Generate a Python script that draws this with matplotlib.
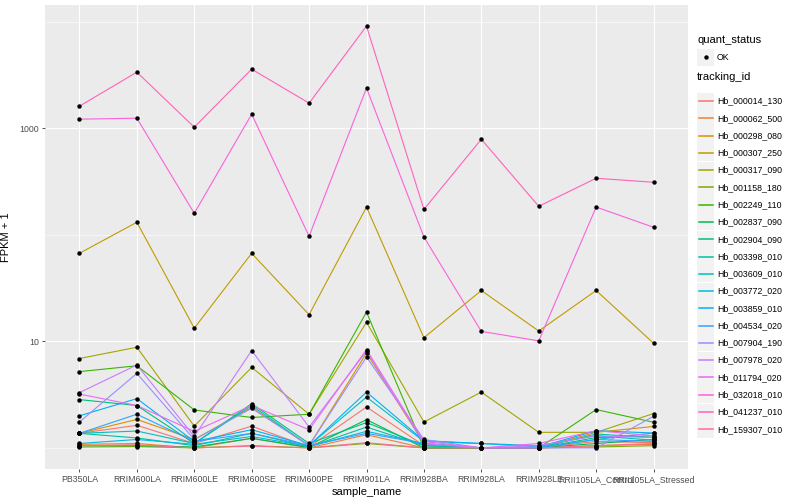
import numpy as np
import matplotlib
matplotlib.use("Agg")
import matplotlib.pyplot as plt
from matplotlib.patches import Rectangle
from matplotlib.lines import Line2D

plt.rcParams['font.family'] = ['Liberation Sans', 'DejaVu Sans']

samples = ["PB350LA", "RRIM600LA", "RRIM600LE", "RRIM600SE", "RRIM600PE", "RRIM901LA",
           "RRIM928BA", "RRIM928LA", "RRIM928LE", "RRII105LA_Control", "RRII105LA_Stressed"]

tracking_ids = ["Hb_000014_130", "Hb_000062_500", "Hb_000298_080", "Hb_000307_250",
                "Hb_000317_090", "Hb_001158_180", "Hb_002249_110", "Hb_002837_090",
                "Hb_002904_090", "Hb_003398_010", "Hb_003609_010", "Hb_003772_020",
                "Hb_003859_010", "Hb_004534_020", "Hb_007904_190", "Hb_007978_020",
                "Hb_011794_020", "Hb_032018_010", "Hb_041237_010", "Hb_159307_010"]

# ggplot hue palette, 20 levels
colors = ["#F8766D", "#EA8331", "#D89000", "#C09B00", "#A3A500", "#7CAE00", "#39B600",
          "#00BB4E", "#00BF7D", "#00C1A3", "#00BFC4", "#00BAE0", "#00B0F6", "#35A2FF",
          "#9590FF", "#C77CFF", "#E76BF3", "#FA62DB", "#FF62BC", "#FF6C91"]

# FPKM + 1 per sample (same order as samples)
hb_000014_130 = [1.37, 1.63, 1.10, 1.60, 1.02, 2.42, 1.05, 1.00, 1.00, 1.15, 1.12]
hb_000062_500 = [1.08, 1.10, 1.00, 1.23, 1.00, 1.33, 1.00, 1.00, 1.00, 1.05, 1.08]
hb_000298_080 = [1.37, 1.85, 1.20, 2.40, 1.05, 7.76, 1.10, 1.00, 1.00, 1.40, 1.59]
hb_000307_250 = [67, 131, 13.3, 67, 17.8, 182, 10.8, 30, 12.5, 30, 9.6]
hb_000317_090 = [6.9, 8.8, 1.60, 5.7, 2.07, 15.1, 1.75, 3.34, 1.40, 1.40, 2.10]
hb_001158_180 = [1.02, 1.03, 1.00, 1.05, 1.00, 1.10, 1.00, 1.00, 1.00, 1.02, 1.05]
hb_002249_110 = [5.2, 5.9, 2.27, 1.93, 2.07, 18.8, 1.00, 1.00, 1.00, 2.29, 1.74]
hb_002837_090 = [1.05, 1.05, 1.02, 1.23, 1.01, 1.84, 1.00, 1.00, 1.00, 1.10, 1.20]
hb_002904_090 = [2.84, 2.50, 1.10, 2.60, 1.10, 1.73, 1.05, 1.00, 1.00, 1.25, 1.30]
hb_003398_010 = [1.37, 1.24, 1.05, 1.37, 1.02, 1.57, 1.05, 1.00, 1.00, 1.35, 1.25]
hb_003609_010 = [1.37, 1.44, 1.10, 2.50, 1.05, 3.00, 1.15, 1.10, 1.05, 1.30, 1.18]
hb_003772_020 = [1.10, 1.20, 1.08, 1.28, 1.03, 1.43, 1.10, 1.00, 1.00, 1.20, 1.38]
hb_003859_010 = [2.00, 2.90, 1.15, 1.48, 1.05, 3.34, 1.17, 1.10, 1.02, 1.45, 1.38]
hb_004534_020 = [1.37, 2.07, 1.15, 1.37, 1.05, 1.37, 1.10, 1.00, 1.00, 1.20, 1.15]
hb_007904_190 = [1.75, 5.00, 1.20, 2.35, 1.05, 7.12, 1.20, 1.00, 1.00, 1.00, 1.98]
hb_007978_020 = [3.30, 6.00, 1.28, 8.20, 1.57, 8.10, 1.10, 1.00, 1.05, 1.30, 1.25]
hb_011794_020 = [3.20, 2.50, 1.43, 2.50, 1.48, 8.36, 1.15, 1.00, 1.10, 1.45, 1.30]
hb_032018_010 = [1215, 1241, 159, 1353, 96.8, 2377, 95.3, 12.4, 10.1, 182, 117.6]
hb_041237_010 = [1609, 3357, 1022, 3580, 1718, 9080, 173, 788, 185, 339, 311]
hb_159307_010 = [1.05, 1.07, 1.00, 1.04, 1.00, 1.12, 1.00, 1.00, 1.00, 1.05, 1.10]

series = [hb_000014_130, hb_000062_500, hb_000298_080, hb_000307_250, hb_000317_090,
          hb_001158_180, hb_002249_110, hb_002837_090, hb_002904_090, hb_003398_010,
          hb_003609_010, hb_003772_020, hb_003859_010, hb_004534_020, hb_007904_190,
          hb_007978_020, hb_011794_020, hb_032018_010, hb_041237_010, hb_159307_010]

fig = plt.figure(figsize=(8, 5), dpi=100)
ax = fig.add_axes([45 / 800, 31 / 500, 643 / 800, 464 / 500])
ax.set_facecolor("#EBEBEB")

x = np.arange(len(samples))
for vals, col in zip(series, colors):
    ax.plot(x, vals, color=col, lw=0.8, zorder=3)
for vals in series:
    ax.plot(x, vals, 'o', color='black', ms=3.2, mec='none', zorder=4)

ax.set_yscale('log')
allv = np.log10(np.concatenate([np.array(s, float) for s in series]))
lo, hi = allv.min(), allv.max()
pad = (hi - lo) * 0.05
ax.set_ylim(10 ** (lo - pad), 10 ** (hi + pad))
ax.set_xlim(-0.6, len(samples) - 0.4)

ax.set_yticks([10, 1000])
ax.set_yticklabels(["10", "1000"])
ax.set_yticks([1, 100, 10000], minor=True)
ax.yaxis.set_minor_formatter(matplotlib.ticker.NullFormatter())
ax.set_xticks(x)
ax.set_xticklabels(samples)

ax.grid(which='major', color='white', lw=0.8)
ax.grid(which='minor', axis='y', color='white', lw=0.4)
ax.set_axisbelow(True)
for s in ax.spines.values():
    s.set_visible(False)
ax.tick_params(which='major', length=2.5, width=0.6, color='#333333',
               labelsize=6.3, labelcolor='#4D4D4D', pad=2)
ax.tick_params(which='minor', length=0)
ax.set_xlabel("sample_name", fontsize=8, labelpad=2)
ax.set_ylabel("FPKM + 1", fontsize=8, labelpad=6)

# legend
lax = fig.add_axes([0, 0, 1, 1])
lax.set_xlim(0, 800)
lax.set_ylim(500, 0)
lax.axis('off')

lax.text(697, 40, "quant_status", fontsize=8, va='center', ha='left')
lax.add_patch(Rectangle((697, 48.5), 17, 17, color='#F2F2F2', lw=0))
lax.plot([705.5], [57], 'o', color='black', ms=3.2, mec='none')
lax.text(717, 57, "OK", fontsize=6.3, va='center', ha='left')

lax.text(697, 77, "tracking_id", fontsize=8, va='center', ha='left')
for i, (tid, col) in enumerate(zip(tracking_ids, colors)):
    yc = 101 + i * 17.28
    lax.add_patch(Rectangle((697, yc - 8.5), 17, 17, color='#F2F2F2', lw=0))
    lax.add_line(Line2D([698.5, 712.5], [yc, yc], color=col, lw=1.1))
    lax.text(717, yc, tid, fontsize=6.3, va='center', ha='left')

fig.savefig("out.png", dpi=100)
